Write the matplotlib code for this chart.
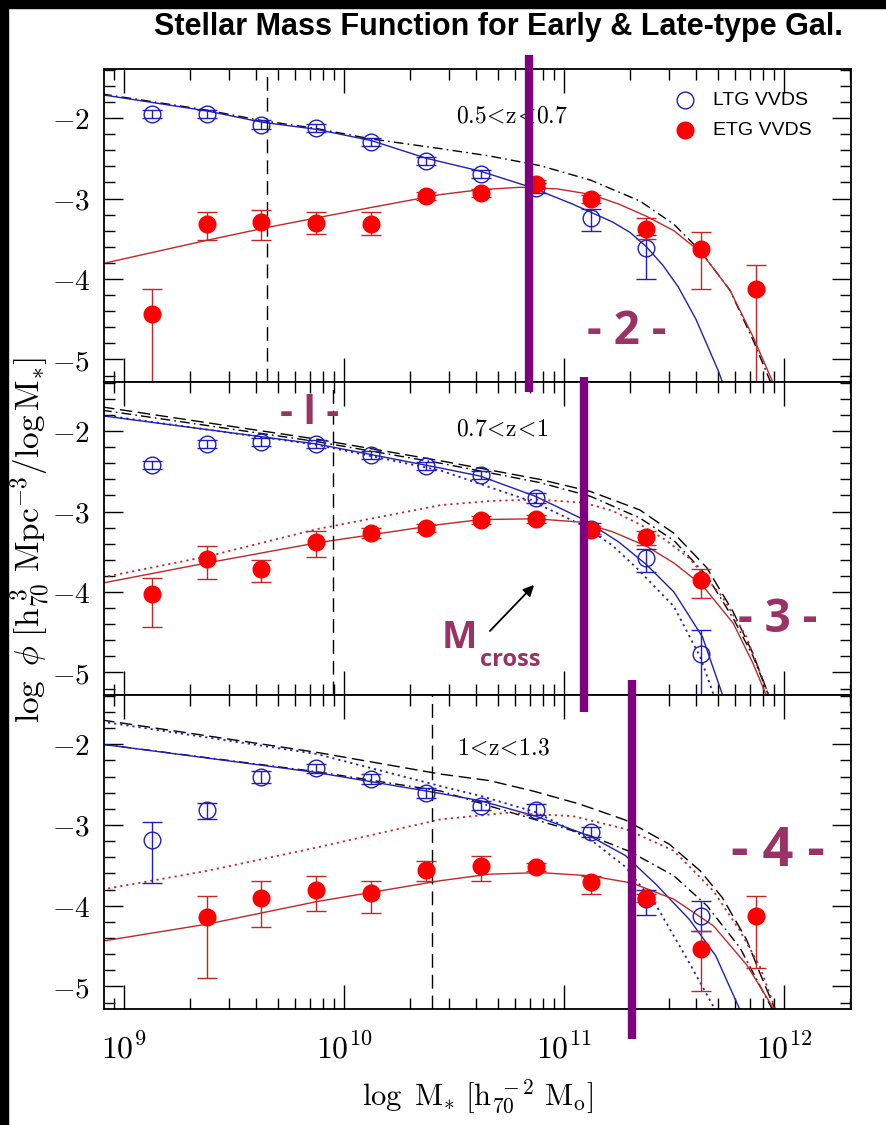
import numpy as np
import matplotlib
matplotlib.use("Agg")
import matplotlib.pyplot as plt
from matplotlib.lines import Line2D
from matplotlib.patches import Rectangle, FancyArrowPatch
from matplotlib import transforms
from matplotlib.ticker import LogLocator, NullFormatter, MultipleLocator

plt.rcParams['mathtext.fontset'] = 'cm'
plt.rcParams['font.family'] = ['DejaVu Serif']

# ---- data (log10 of stellar mass, log phi) ----
logm = [9.125, 9.375, 9.625, 9.875, 10.125, 10.375, 10.625, 10.875,
        11.125, 11.375, 11.625, 11.875]

# 0.5 < z < 0.7
top_ltg = [-1.95, -1.95, -2.08, -2.12, -2.30, -2.53, -2.70, -2.87, -3.24, -3.61]
top_ltg_lo = [-2.00, -2.00, -2.13, -2.17, -2.35, -2.58, -2.75, -2.93, -3.40, -4.00]
top_ltg_hi = [-1.90, -1.90, -2.03, -2.07, -2.25, -2.48, -2.65, -2.81, -3.13, -3.45]
top_etg = [-4.43, -3.32, -3.29, -3.30, -3.32, -2.97, -2.93, -2.82, -3.01, -3.38, -3.63, -4.12]
top_etg_lo = [-6.00, -3.52, -3.51, -3.44, -3.45, -3.02, -2.98, -2.87, -3.06, -3.50, -4.12, -6.00]
top_etg_hi = [-4.12, -3.17, -3.14, -3.17, -3.17, -2.92, -2.88, -2.77, -2.96, -3.24, -3.41, -3.82]

# 0.7 < z < 1
mid_ltg = [-2.42, -2.16, -2.14, -2.16, -2.30, -2.43, -2.54, -2.83, -3.22, -3.58, -4.77]
mid_ltg_lo = [-2.47, -2.21, -2.19, -2.21, -2.35, -2.48, -2.59, -2.90, -3.30, -3.75, -6.00]
mid_ltg_hi = [-2.37, -2.11, -2.09, -2.11, -2.25, -2.38, -2.49, -2.77, -3.14, -3.47, -4.47]
mid_etg = [-4.03, -3.59, -3.72, -3.38, -3.27, -3.20, -3.10, -3.09, -3.23, -3.32, -3.85]
mid_etg_lo = [-4.43, -3.84, -3.88, -3.56, -3.33, -3.25, -3.15, -3.14, -3.28, -3.42, -4.07]
mid_etg_hi = [-3.82, -3.43, -3.60, -3.24, -3.21, -3.15, -3.05, -3.04, -3.18, -3.24, -3.72]

# 1 < z < 1.3
bot_ltg = [-3.19, -2.81, -2.40, -2.30, -2.43, -2.60, -2.76, -2.81, -3.09, -3.92, -4.13]
bot_ltg_lo = [-3.72, -2.92, -2.48, -2.36, -2.49, -2.66, -2.82, -2.88, -3.15, -4.12, -4.31]
bot_ltg_hi = [-2.96, -2.73, -2.33, -2.24, -2.37, -2.54, -2.70, -2.74, -3.03, -3.80, -3.94]
bot_etg = [-4.14, -3.90, -3.80, -3.84, -3.56, -3.51, -3.52, -3.71, -3.90, -4.54, -4.13]
bot_etg_lo = [-4.89, -4.27, -4.07, -4.09, -3.69, -3.69, -3.57, -3.85, -3.95, -5.06, -4.77]
bot_etg_hi = [-3.88, -3.69, -3.63, -3.70, -3.45, -3.38, -3.47, -3.63, -3.85, -4.31, -3.88]

# fitted curves
top_ltg_fit_x = [8.90, 9.375, 9.625, 9.875, 10.125, 10.375, 10.62, 10.85, 11.04, 11.22, 11.30, 11.375, 11.45, 11.52, 11.60, 11.70, 11.73]
top_ltg_fit_y = [-1.71, -1.91, -2.05, -2.14, -2.28, -2.50, -2.66, -2.86, -3.07, -3.29, -3.42, -3.60, -3.83, -4.10, -4.50, -5.13, -5.35]
top_etg_fit_x = [8.90, 9.375, 9.65, 9.875, 10.125, 10.44, 10.62, 10.80, 10.97, 11.125, 11.25, 11.375, 11.50, 11.627, 11.755, 11.86, 11.96]
top_etg_fit_y = [-3.81, -3.52, -3.36, -3.24, -3.11, -2.95, -2.89, -2.86, -2.88, -2.95, -3.07, -3.22, -3.40, -3.68, -4.14, -4.72, -5.35]
top_tot_x = [8.90, 9.375, 9.625, 9.875, 10.125, 10.44, 10.66, 10.89, 11.12, 11.345, 11.50, 11.62, 11.755, 11.86, 11.95]
top_tot_y = [-1.70, -1.90, -2.03, -2.13, -2.26, -2.38, -2.47, -2.59, -2.77, -3.03, -3.32, -3.65, -4.14, -4.76, -5.35]

mid_dash_x = [8.90, 9.875, 10.44, 10.89, 11.12, 11.345, 11.50, 11.65, 11.77, 11.86, 11.94]
mid_dash_y = [-1.70, -2.10, -2.37, -2.60, -2.75, -2.98, -3.27, -3.70, -4.25, -4.77, -5.35]
mid_tot_x = [8.90, 9.875, 10.44, 10.89, 11.12, 11.345, 11.50, 11.65, 11.77, 11.86, 11.94]
mid_tot_y = [-1.74, -2.13, -2.40, -2.64, -2.81, -3.08, -3.36, -3.80, -4.33, -4.80, -5.35]
mid_ltg_fit_x = [8.90, 9.875, 10.44, 10.62, 10.87, 11.09, 11.25, 11.375, 11.50, 11.63, 11.73]
mid_ltg_fit_y = [-1.81, -2.16, -2.46, -2.56, -2.81, -3.10, -3.38, -3.66, -4.00, -4.56, -5.35]
mid_ltg_alt_x = [8.90, 9.875, 10.44, 10.87, 11.09, 11.22, 11.33, 11.50, 11.62, 11.69]
mid_ltg_alt_y = [-1.80, -2.17, -2.49, -2.89, -3.18, -3.42, -3.70, -4.18, -4.81, -5.35]
mid_etg_fit_x = [8.90, 9.375, 9.875, 10.44, 10.62, 10.87, 11.07, 11.22, 11.375, 11.50, 11.63, 11.77, 11.86, 11.93]
mid_etg_fit_y = [-3.89, -3.64, -3.39, -3.16, -3.10, -3.09, -3.13, -3.25, -3.43, -3.64, -3.92, -4.39, -4.89, -5.35]
mid_etg_alt_x = [8.90, 9.375, 9.875, 10.44, 10.66, 10.87, 11.09, 11.22, 11.345, 11.46, 11.57, 11.72, 11.83, 11.94]
mid_etg_alt_y = [-3.82, -3.56, -3.22, -2.92, -2.87, -2.85, -2.89, -2.99, -3.16, -3.35, -3.58, -4.06, -4.56, -5.35]

bot_dash_x = [8.90, 9.875, 10.44, 10.66, 10.86, 11.07, 11.28, 11.48, 11.62, 11.72, 11.83, 11.89, 11.97]
bot_dash_y = [-1.70, -2.10, -2.37, -2.45, -2.58, -2.74, -2.94, -3.24, -3.57, -3.90, -4.42, -4.83, -5.35]
bot_tot_x = [8.90, 9.875, 10.44, 10.74, 11.125, 11.30, 11.50, 11.65, 11.80, 11.96]
bot_tot_y = [-2.00, -2.34, -2.58, -2.83, -3.14, -3.33, -3.63, -4.00, -4.52, -5.35]
bot_ltg_fit_x = [8.90, 9.375, 9.875, 10.44, 10.62, 10.87, 11.12, 11.28, 11.42, 11.57, 11.69, 11.81]
bot_ltg_fit_y = [-2.00, -2.17, -2.35, -2.61, -2.70, -2.89, -3.14, -3.38, -3.74, -4.17, -4.62, -5.35]
bot_ltg_alt_x = [8.90, 9.875, 10.44, 10.62, 10.87, 11.12, 11.28, 11.42, 11.56, 11.70]
bot_ltg_alt_y = [-1.72, -2.12, -2.52, -2.64, -2.84, -3.18, -3.52, -4.00, -4.66, -5.35]
bot_etg_fit_x = [8.90, 9.375, 9.875, 10.44, 10.66, 10.89, 11.12, 11.31, 11.50, 11.68, 11.83, 11.97]
bot_etg_fit_y = [-4.44, -4.23, -3.95, -3.69, -3.61, -3.59, -3.63, -3.72, -3.92, -4.25, -4.73, -5.35]
bot_etg_alt_x = [8.90, 9.375, 9.875, 10.44, 10.74, 11.04, 11.28, 11.50, 11.68, 11.80, 11.89, 11.97]
bot_etg_alt_y = [-3.80, -3.57, -3.28, -2.93, -2.85, -2.89, -3.05, -3.32, -3.82, -4.31, -4.75, -5.35]

completeness = [9.65, 9.95, 10.40]
mcross = [10.84, 11.09, 11.31]
zlabels = ['$0.5\\!<\\!\\mathrm{z}\\!<\\!0.7$', '$0.7\\!<\\!\\mathrm{z}\\!<\\!1$', '$1\\!<\\!\\mathrm{z}\\!<\\!1.3$']

BLUE = '#1f1fb4'
RED = '#ff0000'
DRED = '#c02828'
PURPLE = '#7f007f'
ANN = '#993366'

W, H = 887, 1125
fig = plt.figure(figsize=(W / 100, H / 100), dpi=100)

left, right = 104, 851
panels_px = [(69, 382), (382, 695), (695, 1009)]
axes = []
for (t, b) in panels_px:
    ax = fig.add_axes([left / W, 1 - b / H, (right - left) / W, (b - t) / H])
    axes.append(ax)


def M(v):
    return 10 ** np.asarray(v)


def points(ax, x, y, lo, hi, filled):
    y = np.asarray(y)
    err = [y - np.asarray(lo), np.asarray(hi) - y]
    if filled:
        ax.errorbar(M(x), y, yerr=err, fmt='o', ms=12, mfc=RED, mec=RED,
                    ecolor=DRED, elinewidth=1.0, capsize=7, capthick=1.0, zorder=5)
    else:
        ax.errorbar(M(x), y, yerr=err, fmt='o', ms=12, mfc='none', mec=BLUE, mew=1.0,
                    ecolor=BLUE, elinewidth=1.0, capsize=7, capthick=1.0, zorder=4)


ls_dash = (0, (9, 4))
ls_dashdot = (0, (7, 3, 1.2, 3))
ls_dot = (0, (1.2, 2.2))

# top panel
ax = axes[0]
ax.plot(M(top_tot_x), top_tot_y, color='black', lw=1.0, ls=ls_dashdot)
ax.plot(M(top_ltg_fit_x), top_ltg_fit_y, color=BLUE, lw=1.0)
ax.plot(M(top_etg_fit_x), top_etg_fit_y, color=DRED, lw=1.0)
points(ax, logm[:len(top_ltg)], top_ltg, top_ltg_lo, top_ltg_hi, False)
points(ax, logm[:len(top_etg)], top_etg, top_etg_lo, top_etg_hi, True)

# middle panel
ax = axes[1]
ax.plot(M(mid_dash_x), mid_dash_y, color='black', lw=1.0, ls=ls_dash)
ax.plot(M(mid_tot_x), mid_tot_y, color='black', lw=1.0, ls=ls_dashdot)
ax.plot(M(mid_ltg_fit_x), mid_ltg_fit_y, color=BLUE, lw=1.0)
ax.plot(M(mid_ltg_alt_x), mid_ltg_alt_y, color=BLUE, lw=1.3, ls=ls_dot)
ax.plot(M(mid_etg_fit_x), mid_etg_fit_y, color=DRED, lw=1.0)
ax.plot(M(mid_etg_alt_x), mid_etg_alt_y, color=DRED, lw=1.3, ls=ls_dot)
points(ax, logm[:len(mid_ltg)], mid_ltg, mid_ltg_lo, mid_ltg_hi, False)
points(ax, logm[:len(mid_etg)], mid_etg, mid_etg_lo, mid_etg_hi, True)

# bottom panel
ax = axes[2]
ax.plot(M(bot_dash_x), bot_dash_y, color='black', lw=1.0, ls=ls_dash)
ax.plot(M(bot_tot_x), bot_tot_y, color='black', lw=1.0, ls=ls_dashdot)
ax.plot(M(bot_ltg_fit_x), bot_ltg_fit_y, color=BLUE, lw=1.0)
ax.plot(M(bot_ltg_alt_x), bot_ltg_alt_y, color=BLUE, lw=1.3, ls=ls_dot)
ax.plot(M(bot_etg_fit_x), bot_etg_fit_y, color=DRED, lw=1.0)
ax.plot(M(bot_etg_alt_x), bot_etg_alt_y, color=DRED, lw=1.3, ls=ls_dot)
points(ax, logm[:len(bot_ltg)], bot_ltg, bot_ltg_lo, bot_ltg_hi, False)
points(ax, logm[1:1 + len(bot_etg)], bot_etg, bot_etg_lo, bot_etg_hi, True)

zpos = [(0.471, 0.83), (0.471, 0.83), (0.473, 0.81)]
for i, ax in enumerate(axes):
    ax.axvline(10 ** completeness[i], color='black', lw=1.0, ls=(0, (10, 5)))
    ax.set_xscale('log')
    ax.set_xlim(10 ** 8.909, 10 ** 12.305)
    ax.set_ylim(-5.28, -1.39)
    ax.set_xticks([1e9, 1e10, 1e11, 1e12])
    ax.xaxis.set_minor_locator(LogLocator(base=10, subs=range(2, 10), numticks=20))
    ax.xaxis.set_minor_formatter(NullFormatter())
    ax.set_yticks([-2, -3, -4, -5])
    ax.set_yticklabels(['$-2$', '$-3$', '$-4$', '$-5$'], fontsize=21)
    ax.yaxis.set_minor_locator(MultipleLocator(0.2))
    ax.tick_params(which='both', direction='in', top=True, right=True, width=1.0)
    ax.tick_params(which='major', axis='x', length=17)
    ax.tick_params(which='minor', axis='x', length=8)
    ax.tick_params(which='major', axis='y', length=14, pad=10)
    ax.tick_params(which='minor', axis='y', length=8)
    for sp in ax.spines.values():
        sp.set_linewidth(1.3)
    if i < 2:
        ax.set_xticklabels([])
    else:
        ax.set_xticklabels(['$10^{9}$', '$10^{10}$', '$10^{11}$', '$10^{12}$'], fontsize=23)
        ax.tick_params(axis='x', which='major', pad=18)
    ax.text(zpos[i][0], zpos[i][1], zlabels[i], transform=ax.transAxes, fontsize=17)

# legend
ax = axes[0]
ax.plot([0.778], [0.90], 'o', ms=12, mfc='none', mec=BLUE, mew=1.0, transform=ax.transAxes)
ax.plot([0.778], [0.805], 'o', ms=12, mfc=RED, mec=RED, transform=ax.transAxes)
ax.text(0.815, 0.90, 'LTG VVDS', transform=ax.transAxes, fontsize=14,
        family='Liberation Sans', va='center')
ax.text(0.815, 0.803, 'ETG VVDS', transform=ax.transAxes, fontsize=14,
        family='Liberation Sans', va='center')

# purple M_cross markers
spans = [(55, 392), (377, 712), (680, 1039)]
for i, xm in enumerate(mcross):
    tr = transforms.blended_transform_factory(axes[i].transData, fig.transFigure)
    y0, y1 = spans[i]
    fig.add_artist(Line2D([10 ** xm, 10 ** xm], [1 - y1 / H, 1 - y0 / H], transform=tr,
                          color=PURPLE, lw=6, solid_capstyle='butt', zorder=10))

hand = dict(color=ANN, fontweight='bold', family=['Open Sans', 'DejaVu Sans'],
            ha='center', va='center')
fig.text(310 / W, 1 - 414 / H, '- l -', fontsize=29, **hand)
fig.text(627 / W, 1 - 332 / H, '- 2 -', fontsize=33, **hand)
fig.text(778 / W, 1 - 620 / H, '- 3 -', fontsize=33, **hand)
fig.text(778 / W, 1 - 852 / H, '- 4 -', fontsize=39, **hand)
fig.text(459 / W, 1 - 638 / H, 'M', fontsize=27, **hand)
fig.text(510 / W, 1 - 660 / H, 'cross', fontsize=17, **hand)
fig.add_artist(FancyArrowPatch((488 / W, 1 - 633 / H), (536 / W, 1 - 583 / H),
                               transform=fig.transFigure, arrowstyle='-|>',
                               mutation_scale=16, color='black', lw=1.3))

# axis labels
fig.text(30 / W, 1 - 540 / H,
         r'$\log\ \phi\ [\mathrm{h}^{\ 3}_{70}\ \mathrm{Mpc}^{-3}/\log\mathrm{M}_{*}]$',
         rotation=90, fontsize=24, ha='center', va='center')
fig.text(477 / W, 1 - 1097 / H,
         r'$\log\ \mathrm{M}_{*}\ [\mathrm{h}_{70}^{\ -2}\ \mathrm{M}_{\mathrm{o}}]$',
         fontsize=22, ha='center', va='center')

# title
fig.text(498 / W, 1 - 27 / H, 'Stellar Mass Function for Early & Late-type Gal.',
         fontsize=22, fontweight='bold', family=['Liberation Sans', 'DejaVu Sans'],
         ha='center', va='center')

# black frame strips on the left and top
fig.add_artist(Rectangle((0, 0), 8 / W, 1, transform=fig.transFigure, color='black', zorder=20))
fig.add_artist(Rectangle((0, 1 - 8 / H), 1, 8 / H, transform=fig.transFigure, color='black', zorder=20))

fig.savefig('out.png', dpi=100)
